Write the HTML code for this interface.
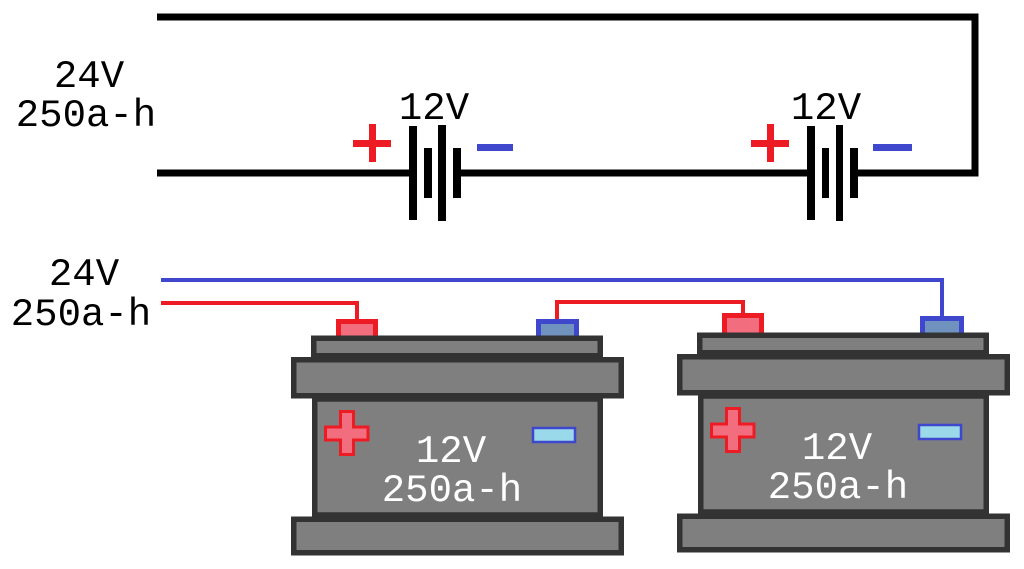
<!DOCTYPE html>
<html>
<head>
<meta charset="utf-8">
<style>
html,body{margin:0;padding:0;background:#fff;}
svg{display:block;}
text{font-family:"Liberation Mono","DejaVu Sans Mono",monospace;font-size:39px;}
</style>
</head>
<body>
<svg width="1024" height="569" viewBox="0 0 1024 569" xmlns="http://www.w3.org/2000/svg">
  <rect x="0" y="0" width="1024" height="569" fill="#fff"/>

  <!-- Top schematic circuit -->
  <g fill="none" stroke="#000" stroke-width="7">
    <path d="M157,17 H975 V173 H856"/>
    <path d="M157,173 H410"/>
    <path d="M460,173 H808"/>
  </g>
  <!-- battery symbol 1 plates -->
  <g fill="#000">
    <rect x="409" y="126" width="8" height="94"/>
    <rect x="424" y="148" width="8" height="50"/>
    <rect x="438" y="125" width="8" height="96"/>
    <rect x="453" y="148" width="8" height="50"/>
    <!-- battery symbol 2 plates -->
    <rect x="807" y="126" width="8" height="94"/>
    <rect x="822" y="148" width="7" height="50"/>
    <rect x="836" y="125" width="7" height="96"/>
    <rect x="850" y="148" width="8" height="50"/>
  </g>
  <!-- plus / minus schematic signs -->
  <g fill="#ed1c24">
    <rect x="353" y="140" width="38" height="7"/>
    <rect x="369" y="124" width="7" height="38"/>
    <rect x="751" y="140" width="38" height="7"/>
    <rect x="767" y="124" width="7" height="38"/>
  </g>
  <g fill="#3f48cc">
    <rect x="477" y="144" width="36" height="7"/>
    <rect x="873" y="144" width="39" height="7"/>
  </g>

  <!-- labels top -->
  <g fill="#000" text-anchor="middle">
    <text x="89" y="87">24V</text>
    <text x="86" y="126">250a-h</text>
    <text x="434" y="119">12V</text>
    <text x="826" y="119">12V</text>
    <text x="84" y="285">24V</text>
    <text x="81" y="325">250a-h</text>
  </g>

  <!-- Wires -->
  <g fill="none" stroke-width="4">
    <path d="M161,280 H942 V318" stroke="#3f48cc"/>
    <path d="M161,303 H357 V321" stroke="#ed1c24"/>
    <path d="M557,321 V302 H743 V315" stroke="#ed1c24"/>
  </g>

  <!-- Terminals -->
  <rect x="338.5" y="321.5" width="37" height="18" fill="#f26d7d" stroke="#ed1c24" stroke-width="5"/>
  <rect x="538.5" y="321.5" width="38" height="18" fill="#7092be" stroke="#3f48cc" stroke-width="5"/>
  <rect x="724.5" y="315.5" width="37" height="21" fill="#f26d7d" stroke="#ed1c24" stroke-width="5"/>
  <rect x="922.5" y="318.5" width="39" height="18" fill="#7092be" stroke="#3f48cc" stroke-width="5"/>

  <!-- Battery 1 -->
  <g id="bat">
    <g fill="#7f7f7f" stroke="#333" stroke-width="5.5">
      <rect x="313.75" y="338.25" width="286.5" height="17.5"/>
      <rect x="314.75" y="399" width="285.5" height="116"/>
      <rect x="293.75" y="359.75" width="327.5" height="36"/>
      <rect x="293.75" y="519.25" width="327.5" height="33.5"/>
    </g>
    <path d="M340.5,411.5 H353.5 V427 H368 V440 H353.5 V454.5 H340.5 V440 H325.5 V427 H340.5 Z" fill="#f26d7d" stroke="#ed1c24" stroke-width="3"/>
    <rect x="533" y="428" width="42" height="14" fill="#99d9ea" stroke="#3f48cc" stroke-width="2.5"/>
    <g fill="#fff" text-anchor="middle">
      <text x="451" y="462">12V</text>
      <text x="452" y="501">250a-h</text>
    </g>
  </g>

  <!-- Battery 2 -->
  <g transform="translate(386,-3)">
    <g fill="#7f7f7f" stroke="#333" stroke-width="5.5">
      <rect x="313.75" y="338.25" width="286.5" height="17.5"/>
      <rect x="314.75" y="399" width="285.5" height="116"/>
      <rect x="293.75" y="359.75" width="327.5" height="36"/>
      <rect x="293.75" y="519.25" width="327.5" height="33.5"/>
    </g>
    <path d="M340.5,411.5 H353.5 V427 H368 V440 H353.5 V454.5 H340.5 V440 H325.5 V427 H340.5 Z" fill="#f26d7d" stroke="#ed1c24" stroke-width="3"/>
    <rect x="533" y="428" width="42" height="14" fill="#99d9ea" stroke="#3f48cc" stroke-width="2.5"/>
    <g fill="#fff" text-anchor="middle">
      <text x="451" y="462">12V</text>
      <text x="452" y="501">250a-h</text>
    </g>
  </g>
</svg>
</body>
</html>
